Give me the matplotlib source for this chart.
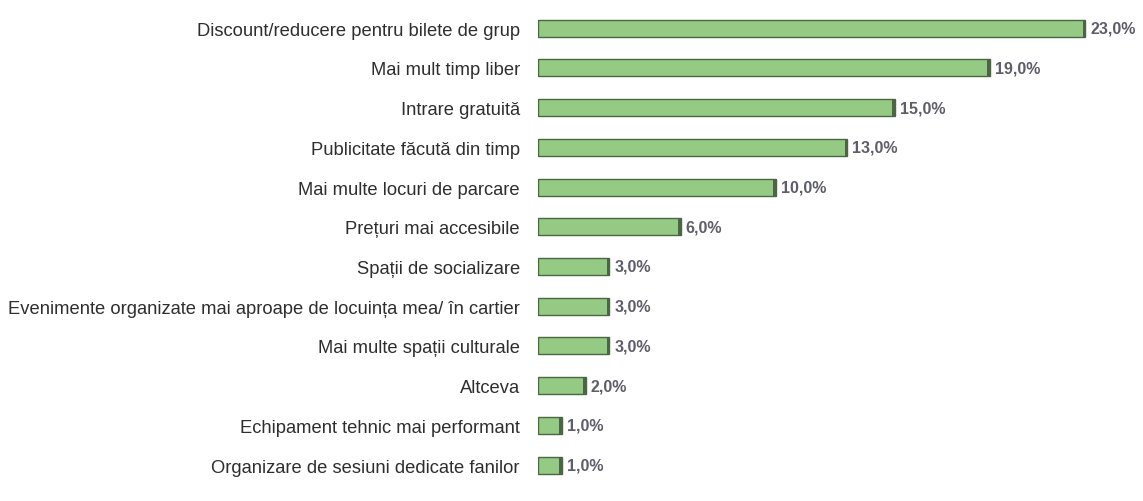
import matplotlib
matplotlib.use("Agg")
import matplotlib.pyplot as plt

categories = [
    "Discount/reducere pentru bilete de grup",
    "Mai mult timp liber",
    "Intrare gratuită",
    "Publicitate făcută din timp",
    "Mai multe locuri de parcare",
    "Prețuri mai accesibile",
    "Spații de socializare",
    "Evenimente organizate mai aproape de locuința mea/ în cartier",
    "Mai multe spații culturale",
    "Altceva",
    "Echipament tehnic mai performant",
    "Organizare de sesiuni dedicate fanilor",
]
values = [23.0, 19.0, 15.0, 13.0, 10.0, 6.0, 3.0, 3.0, 3.0, 2.0, 1.0, 1.0]

BAR = "#95ca84"
EDGE = "#4a6642"

plt.rcParams["font.family"] = ["Liberation Sans", "DejaVu Sans"]

fig = plt.figure(figsize=(11.43, 5.02), dpi=100)
ax = fig.add_axes([0.4707, 0.0319, 0.5206, 0.9496])

y = list(range(len(categories)))
ax.barh(y, values, height=0.43, color=BAR, edgecolor=EDGE, linewidth=1.0)
# darker right end, like the 3D caps in the original
ax.barh(y, [0.12] * len(values), left=[v - 0.12 for v in values],
        height=0.43, color=EDGE, linewidth=0)
for yi, v in zip(y, values):
    ax.text(v + 0.2, yi, f"{v:.1f}%".replace(".", ","), va="center",
            ha="left", fontsize=11.5, color="#5e5e6a", fontweight="bold")

ax.set_yticks(y)
ax.set_yticklabels(categories, fontsize=13.2, color="#2e2e2e")
ax.tick_params(axis="y", length=0, pad=13)
ax.set_xticks([])
ax.set_xlim(0, 25)
ax.set_ylim(len(categories) - 0.5, -0.5)
for s in ax.spines.values():
    s.set_visible(False)

fig.savefig("out.png", dpi=100)
